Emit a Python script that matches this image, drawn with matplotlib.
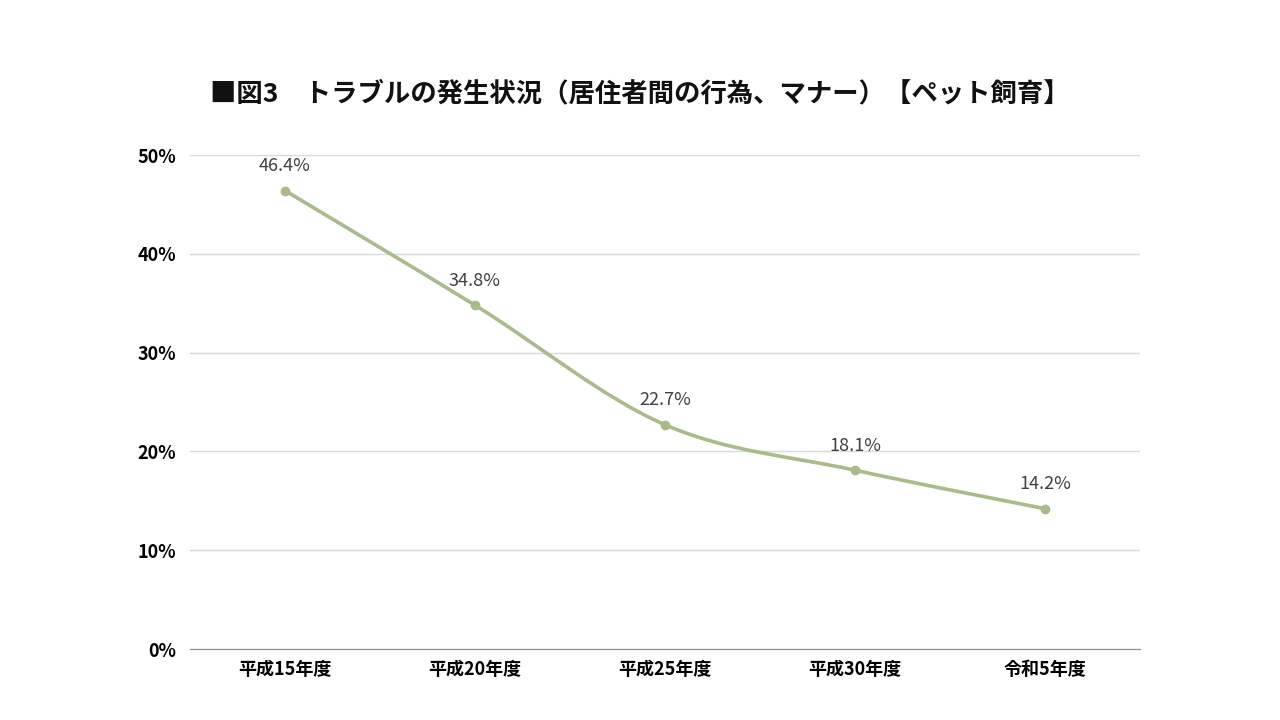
import numpy as np
import matplotlib
matplotlib.use('Agg')
import matplotlib.pyplot as plt
from matplotlib.path import Path
from matplotlib.patches import PathPatch

plt.rcParams['font.family'] = ['Noto Sans CJK JP', 'DejaVu Sans']

categories = ['平成15年度', '平成20年度', '平成25年度', '平成30年度', '令和5年度']
values = [46.4, 34.8, 22.7, 18.1, 14.2]
labels = ['46.4%', '34.8%', '22.7%', '18.1%', '14.2%']
yticks = [0, 10, 20, 30, 40, 50]

line_color = '#a9bb8a'

fig = plt.figure(figsize=(12.8, 7.2), dpi=100)
ax = fig.add_axes([0.1484, 0.0986, 0.7422, 0.6861])

x = np.arange(len(values))
y = np.array(values, dtype=float)

# smoothed line like Excel: cubic bezier segments through the points
verts = [(x[0], y[0])]
codes = [Path.MOVETO]
n = len(x)
for i in range(n - 1):
    p0 = (x[max(i - 1, 0)], y[max(i - 1, 0)])
    p1 = (x[i], y[i])
    p2 = (x[i + 1], y[i + 1])
    p3 = (x[min(i + 2, n - 1)], y[min(i + 2, n - 1)])
    c1 = (p1[0] + (p2[0] - p0[0]) / 6, p1[1] + (p2[1] - p0[1]) / 6)
    c2 = (p2[0] - (p3[0] - p1[0]) / 6, p2[1] - (p3[1] - p1[1]) / 6)
    verts += [c1, c2, p2]
    codes += [Path.CURVE4] * 3
ax.add_patch(PathPatch(Path(verts, codes), facecolor='none',
                       edgecolor=line_color, lw=2.6, capstyle='round', zorder=3))
ax.plot(x, y, 'o', color=line_color, ms=6, zorder=4)

for xi, yi, t in zip(x, y, labels):
    ax.annotate(t, (xi, yi), xytext=(0, 11), textcoords='offset points',
                ha='center', va='bottom', fontsize=13, color='#404040')

ax.set_xlim(-0.5, len(values) - 0.5)
ax.set_ylim(0, 50)
ax.set_xticks(x)
ax.set_xticklabels(categories, fontsize=13, fontweight='bold')
ax.set_yticks(yticks)
ax.set_yticklabels([f'{v}%' for v in yticks], fontsize=13, fontweight='bold')
ax.tick_params(axis='x', length=0, pad=8)
ax.tick_params(axis='y', length=0, pad=10)
ax.grid(axis='y', color='#d9d9d9', lw=1)
ax.set_axisbelow(True)
for s in ['top', 'right', 'left']:
    ax.spines[s].set_visible(False)
ax.spines['bottom'].set_color('#8c8c8c')
ax.spines['bottom'].set_zorder(2)

fig.text(0.5, 0.87, '■図3　トラブルの発生状況（居住者間の行為、マナー）【ペット飼育】',
         ha='center', va='center', fontsize=19, fontweight='bold', color='#111111')

fig.savefig('out.png', dpi=100, facecolor='white')
